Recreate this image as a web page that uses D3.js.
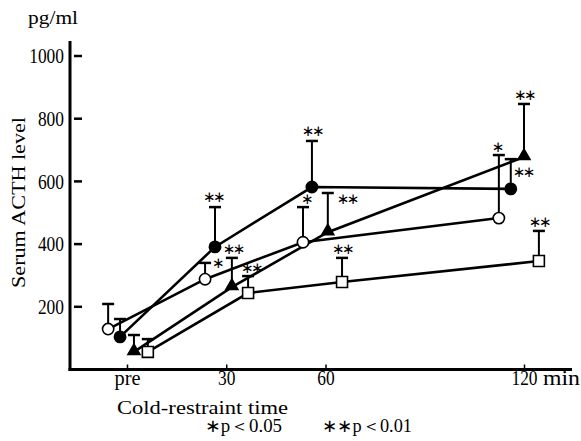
<!DOCTYPE html>
<html>
<head>
  <meta charset="UTF-8">
  <style>
    body { margin: 0; background: #fff; }
    svg text { font-family: "Liberation Serif", "Times New Roman", serif; fill: #000; }
    svg text.star { font-family: "DejaVu Sans", sans-serif; }
  </style>
</head>
<body>
<svg></svg>
<script src="https://d3js.org/d3.v7.min.js"></script>
<script>

let width = 581, height = 441;

// x values are the plotted time (min), groups are offset around each sampling time
let openX = [-5.7, 23.6, 53.2, 112.4];
let openY = [129, 288, 406, 483];
let openErr = [209, 340, 518, 684];
let openSig = ["", "*", "*", "*"];

let filledX = [-2.1, 26.6, 55.9, 116];
let filledY = [104, 391, 582, 576];
let filledErr = [161, 518, 729, 671];
let filledSig = ["", "**", "**", "**"];

let triX = [2.1, 31.7, 60.7, 120];
let triY = [56, 263, 438, 678];
let triErr = [110, 356, 563, 847];
let triSig = ["", "**", "**", "**"];

let sqX = [6.3, 36.6, 65, 124.5];
let sqY = [56, 244, 279, 346];
let sqErr = [97, 298, 356, 442];
let sqSig = ["", "**", "**", "**"];

let xTicks = [0, 30, 60, 120];
let xTickLabels = ["pre", "30", "60", "120"];
let yTicks = [200, 400, 600, 800, 1000];

// centre of each significance mark relative to its cap: [dx, dy]
let openSigPos = [null, [12, 0], [3, -8], [-2, -8]];
let filledSigPos = [null, [-2, -10], [0, -10], [12, 13]];
let triSigPos = [null, [1, -9], [19, 6], [0, -9]];
let sqSigPos = [null, [3, -8], [0, -9], [0, -9]];

let svg = d3.select("svg")
    .attr("width", width)
    .attr("height", height)

let x = d3.scaleLinear().domain([0, 120]).range([127, 524]);
let y = d3.scaleLinear().domain([0, 1000]).range([369.5, 56]);

// axes
svg.append("line")
    .attr("x1", 70).attr("x2", 70)
    .attr("y1", 41).attr("y2", y(0) + 1.5)
    .attr("stroke", "black").attr("stroke-width", 3)
svg.append("line")
    .attr("x1", 68.5).attr("x2", 572)
    .attr("y1", y(0)).attr("y2", y(0))
    .attr("stroke", "black").attr("stroke-width", 3)

let yAxis = svg.append("g")
    .attr("transform", "translate(70,0)")
    .call(d3.axisLeft(y).tickValues(yTicks).tickSize(0).tickPadding(6).tickFormat(d3.format("d")))
yAxis.select(".domain").remove()
yAxis.selectAll("text")
    .style("font-family", "'Liberation Serif', serif")
    .style("font-size", "20px")
    .attr("dy", "0.33em")
    .attr("textLength", d => String(d).length * 8.7)
    .attr("lengthAdjust", "spacingAndGlyphs")

svg.selectAll(".ydash")
    .data(yTicks)
    .enter()
    .append("line")
    .attr("x1", 74).attr("x2", 82)
    .attr("y1", d => y(d)).attr("y2", d => y(d))
    .attr("stroke", "black").attr("stroke-width", 2.5)

let xAxis = svg.append("g")
    .attr("transform", "translate(0," + y(0) + ")")
    .call(d3.axisBottom(x).tickValues(xTicks).tickSize(-5)
        .tickFormat((d, i) => xTickLabels[i]))
xAxis.select(".domain").remove()
xAxis.selectAll("line").attr("stroke-width", 1.5)
xAxis.selectAll("text")
    .style("font-family", "'Liberation Serif', serif")
    .style("font-size", "20px")
    .attr("y", 15).attr("dy", 0)
    .attr("textLength", (d, i) => xTickLabels[i] == "pre" ? 26 : xTickLabels[i].length * 8.7)
    .attr("lengthAdjust", "spacingAndGlyphs")

svg.append("text")
    .attr("x", 543).attr("y", y(0) + 15)
    .attr("textLength", 37).attr("lengthAdjust", "spacingAndGlyphs")
    .style("font-size", "20px")
    .text("min")

svg.append("text")
    .attr("x", 28).attr("y", 24)
    .attr("textLength", 50).attr("lengthAdjust", "spacingAndGlyphs")
    .style("font-size", "19px")
    .text("pg/ml")

svg.append("text")
    .attr("transform", "translate(25,288) rotate(-90)")
    .attr("textLength", 171).attr("lengthAdjust", "spacingAndGlyphs")
    .style("font-size", "19px")
    .text("Serum ACTH level")

svg.append("text")
    .attr("x", 117).attr("y", 414)
    .attr("textLength", 171).attr("lengthAdjust", "spacingAndGlyphs")
    .style("font-size", "19px")
    .text("Cold-restraint time")

svg.append("text")
    .attr("x", 205).attr("y", 432)
    .attr("textLength", 77).attr("lengthAdjust", "spacingAndGlyphs")
    .style("font-size", "18px")
    .text("\u2217p\uFF1C0.05")
svg.append("text")
    .attr("x", 322).attr("y", 432)
    .attr("textLength", 90).attr("lengthAdjust", "spacingAndGlyphs")
    .style("font-size", "18px")
    .text("\u2217\u2217p\uFF1C0.01")

let groups = [
    {xs: openX, ys: openY, err: openErr, sig: openSig, pos: openSigPos, shape: "circle", fill: "white"},
    {xs: filledX, ys: filledY, err: filledErr, sig: filledSig, pos: filledSigPos, shape: "circle", fill: "black"},
    {xs: triX, ys: triY, err: triErr, sig: triSig, pos: triSigPos, shape: "triangle", fill: "black"},
    {xs: sqX, ys: sqY, err: sqErr, sig: sqSig, pos: sqSigPos, shape: "square", fill: "white"}
]

let line = d3.line().x(d => x(d[0])).y(d => y(d[1]))

groups.forEach(g => {
    let pts = g.xs.map((v, i) => [v, g.ys[i]])
    svg.append("path")
        .attr("d", line(pts))
        .attr("fill", "none")
        .attr("stroke", "black")
        .attr("stroke-width", 2.6)
})

groups.forEach(g => {
    let gg = svg.append("g")
    g.xs.forEach((v, i) => {
        let cx = x(v), cy = y(g.ys[i]), top = y(g.err[i])
        gg.append("line")
            .attr("x1", cx).attr("x2", cx).attr("y1", cy).attr("y2", top)
            .attr("stroke", "black").attr("stroke-width", 2)
        gg.append("line")
            .attr("x1", cx - 6).attr("x2", cx + 6).attr("y1", top).attr("y2", top)
            .attr("stroke", "black").attr("stroke-width", 2.5)
        if (g.sig[i]) {
            gg.append("text")
                .attr("class", "star")
                .attr("x", cx + g.pos[i][0]).attr("y", top + g.pos[i][1] + 5)
                .attr("text-anchor", "middle")
                .attr("letter-spacing", "-2.5")
                .style("font-size", "15px")
                .text(g.sig[i].replace(/\*/g, "\u2217"))
        }
    })
    let sym = g.shape == "circle" ? d3.symbolCircle : g.shape == "triangle" ? d3.symbolTriangle : d3.symbolSquare
    let size = g.shape == "circle" ? 100 : g.shape == "triangle" ? 62 : 120
    gg.selectAll("path")
        .data(g.xs)
        .enter()
        .append("path")
        .attr("d", d3.symbol().type(sym).size(size))
        .attr("transform", (d, i) => "translate(" + x(d) + "," + (y(g.ys[i]) + (g.shape == "triangle" ? -1 : 0)) + ")")
        .attr("fill", g.fill)
        .attr("stroke", "black")
        .attr("stroke-width", 1.6)
})

</script>
</body>
</html>
